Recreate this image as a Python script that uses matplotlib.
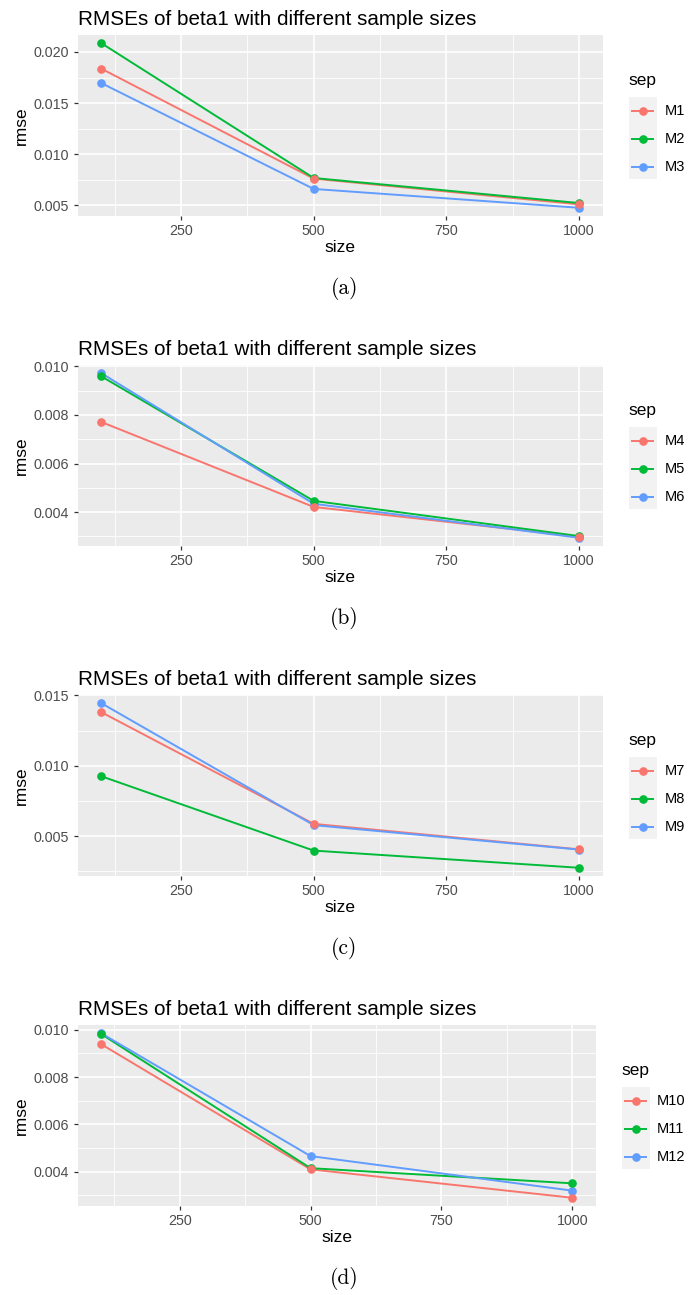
import matplotlib
matplotlib.use("Agg")
import matplotlib.pyplot as plt
from matplotlib.lines import Line2D
from matplotlib.patches import Rectangle
from matplotlib.ticker import MultipleLocator

# data
sizes = [100, 500, 1000]

labels_a = ["M1", "M2", "M3"]
rmse_a = [
    [0.01836, 0.00762, 0.00510],
    [0.02085, 0.00768, 0.00523],
    [0.01695, 0.00661, 0.00477],
]

labels_b = ["M4", "M5", "M6"]
rmse_b = [
    [0.00771, 0.00421, 0.00299],
    [0.00959, 0.00446, 0.00301],
    [0.00972, 0.00434, 0.00294],
]

labels_c = ["M7", "M8", "M9"]
rmse_c = [
    [0.01381, 0.00588, 0.00407],
    [0.00926, 0.00398, 0.00276],
    [0.01445, 0.00579, 0.00405],
]

labels_d = ["M10", "M11", "M12"]
rmse_d = [
    [0.00939, 0.00410, 0.00290],
    [0.00982, 0.00415, 0.00351],
    [0.00985, 0.00466, 0.00320],
]

x_ticks = [250, 500, 750, 1000]
y_major = [0.005, 0.002, 0.005, 0.002]
captions = ["(a)", "(b)", "(c)", "(d)"]
title = "RMSEs of beta1 with different sample sizes"

colors = ["#F8766D", "#00BA38", "#619CFF"]
W, H = 689, 1295

plt.rcParams["font.family"] = ["Liberation Sans", "DejaVu Sans"]

fig = plt.figure(figsize=(W / 100, H / 100), dpi=100)


def fx(x):
    return x / W


def fy(y):
    return 1 - y / H


panels = [
    (labels_a, rmse_a, 35, 603, 628, 665),
    (labels_b, rmse_b, 365, 603, 628, 665),
    (labels_c, rmse_c, 695, 603, 628, 665),
    (labels_d, rmse_d, 1025, 596, 621, 657),
]

for i, (labs, vals, top, right, leg_x, lab_x) in enumerate(panels):
    left = 77.5
    bottom = top + 181
    ax = fig.add_axes([fx(left), fy(bottom), fx(right - left), (bottom - top) / H])
    ax.set_facecolor("#EBEBEB")

    # lines first, then points (ggplot layer order)
    for j in range(3):
        ax.plot(sizes, vals[j], color=colors[j], lw=1.4, zorder=3 + j * 0.1)
    for j in reversed(range(3)):
        ax.plot(sizes, vals[j], ls="none", marker="o", ms=5.2,
                color=colors[j], zorder=4 + (2 - j) * 0.1)

    lo = min(min(v) for v in vals)
    hi = max(max(v) for v in vals)
    pad = (hi - lo) * 0.05
    ax.set_ylim(lo - pad, hi + pad)
    ax.set_xlim(100 - 900 * 0.05, 1000 + 900 * 0.05)

    ax.set_xticks(x_ticks)
    ax.xaxis.set_minor_locator(MultipleLocator(125))
    ax.yaxis.set_major_locator(MultipleLocator(y_major[i]))
    ax.yaxis.set_minor_locator(MultipleLocator(y_major[i] / 2))
    ax.yaxis.set_major_formatter(plt.FormatStrFormatter("%.3f"))
    ax.grid(which="major", color="white", lw=1.2)
    ax.grid(which="minor", color="white", lw=0.6)
    ax.set_axisbelow(True)
    for s in ax.spines.values():
        s.set_visible(False)
    ax.tick_params(which="major", length=3, width=0.9, color="#333333",
                   labelcolor="#4D4D4D", labelsize=10.3)
    ax.tick_params(axis="y", pad=3.4)
    ax.tick_params(axis="x", pad=2.5)
    ax.tick_params(which="minor", length=0)

    ax.set_xlabel("size", fontsize=12.5, labelpad=2)
    ax.set_ylabel("rmse", fontsize=12.5, labelpad=3)
    ax.set_title(title, fontsize=14.9, loc="left", pad=7)

    # caption
    fig.text(0.5, fy(top + 253), captions[i], ha="center", va="center",
             fontsize=15.5, family="cmr10")

    # legend
    fig.text(fx(leg_x), fy(top + 46), "sep", ha="left", va="center", fontsize=12.5)
    fig.add_artist(Rectangle((fx(leg_x + 1), fy(top + 144)), (28) / W, 82 / H,
                             transform=fig.transFigure, facecolor="#F2F2F2",
                             edgecolor="none"))
    for j in range(3):
        yy = fy(top + 76 + 28 * j)
        fig.add_artist(Line2D([fx(leg_x + 4), fx(leg_x + 25)], [yy, yy],
                              transform=fig.transFigure, color=colors[j], lw=1.4))
        fig.add_artist(Line2D([fx(leg_x + 14.5)], [yy], transform=fig.transFigure,
                              marker="o", ms=5.2, color=colors[j], ls="none"))
        fig.text(fx(lab_x), yy, labs[j], ha="left", va="center", fontsize=10.5)

fig.savefig("out.png", dpi=100)
